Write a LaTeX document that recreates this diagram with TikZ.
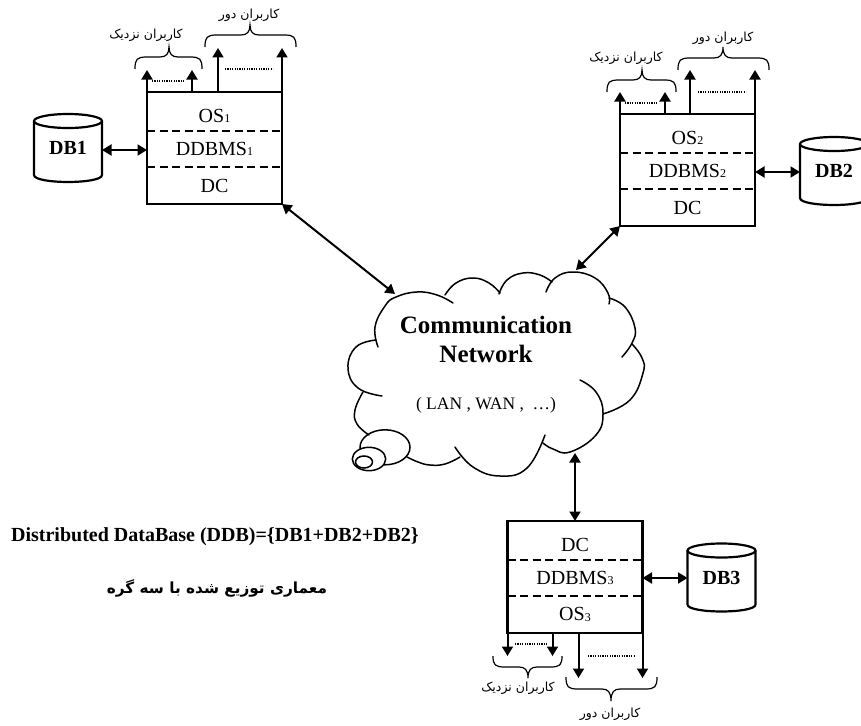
\documentclass[tikz,border=0pt]{standalone}
\usepackage{fontspec}
\setmainfont{Liberation Serif}
\newfontfamily\arabicfont[Script=Arabic]{DejaVu Sans}
\TeXXeTstate=1
\usetikzlibrary{arrows.meta,calc}
\tikzset{
  boxouter/.style={draw,line width=2.2pt,minimum width=135pt,minimum height=112pt,inner sep=0pt,outer sep=0pt},
  layer/.style={minimum width=135pt,inner sep=0pt,outer sep=0pt,font=\fontsize{20}{22}\selectfont},
  dashline/.style={line width=1.6pt,dash pattern=on 8pt off 4.5pt},
  dbbody/.style={line width=2.2pt},
  dblabel/.style={minimum width=68pt,minimum height=68pt,inner sep=0pt,outer sep=0pt,font=\fontsize{20}{22}\selectfont\bfseries},
  bidir/.style={line width=2pt,{Triangle[length=9.5pt,width=11pt]}-{Triangle[length=9.5pt,width=11pt]}},
  usr/.style={line width=2pt,-{Triangle[length=9.5pt,width=11pt]}},
  brace/.style={line width=1.2pt},
  dotsline/.style={line width=1.3pt,dash pattern=on 1.2pt off 1.2pt},
  cloudline/.style={line width=1.5pt,line cap=round},
  fa/.style={inner sep=0pt,font=\arabicfont\fontsize{12.5}{14}\selectfont},
  txt/.style={inner sep=0pt}
}
\newcommand{\dbcyl}[4]{% name, cx, cy, label
  \node[dblabel] (#1) at (#2,#3) {#4};
  \begin{scope}[shift={(#2,#3)}]
    \draw[dbbody] (0,-27) ellipse [x radius=34pt,y radius=7pt];
    \draw[dbbody] (-34,-27) -- (-34,27) .. controls (-34,36.3) and (34,36.3) .. (34,27) -- (34,-27);
  \end{scope}
}
\newcommand{\sitebox}[6]{% name, cx, top, l1,l2,l3
  \node[boxouter,anchor=north] (#1) at (#2,#3) {};
  \node[layer,minimum height=39pt,anchor=north] (#1a) at (#1.north) {};
  \node[layer] (#1t) at ($(#1a.center)+(0,4.5)$) {#4};
  \node[layer,minimum height=36pt,anchor=north] (#1b) at (#1a.south) {#5};
  \node[layer,minimum height=37pt,anchor=north] (#1c) at (#1b.south) {#6};
  \draw[dashline] (#1a.south west) -- (#1a.south east);
  \draw[dashline] (#1b.south west) -- (#1b.south east);
}
\newcommand{\bracket}[7]{% x1,x2,tipx,yend,yflat,ytip,sign
  \draw[brace] (#1,#4) .. controls (#1,#5+#7*2) and (#1+2,#5) .. (#1+12,#5)
     -- (#3-9,#5) .. controls (#3-3,#5) and (#3,#5-#7*3) .. (#3,#6)
     .. controls (#3,#5-#7*3) and (#3+3,#5) .. (#3+9,#5)
     -- (#2-12,#5) .. controls (#2-2,#5) and (#2,#5+#7*2) .. (#2,#4);
}
\newcommand{\sub}[1]{\raisebox{-0.5pt}{\fontsize{12}{13}\selectfont #1}}
\newcommand{\near}{\beginR کاربران نزدیک\endR}
\newcommand{\far}{\beginR کاربران دور\endR}
\begin{document}
\begin{tikzpicture}[x=1pt,y=-1pt]
\useasboundingbox (0,0) rectangle (861,725);

% cloud
\draw[cloudline] plot[smooth,tension=0.75] coordinates {(378,347) (375,327) (385,306) (396,297) (417,292) (437,295) (453,303)};
\draw[cloudline] plot[smooth,tension=0.75] coordinates {(376,340) (356,347) (348,368) (358,388) (382,396)};
\draw[cloudline] plot[smooth,tension=0.75] coordinates {(363,392) (355,410) (357,424) (369,435)};
\draw[cloudline] plot[smooth,tension=0.75] coordinates {(445,295) (456,283) (473,278) (489,283) (500,293)};
\draw[cloudline] plot[smooth,tension=0.75] coordinates {(499,294) (507,280) (523,273) (540,275) (552,282)};
\draw[cloudline] plot[smooth,tension=0.75] coordinates {(546,292) (555,278) (573,272) (595,278) (608,293) (609,304)};
\draw[cloudline] plot[smooth,tension=0.75] coordinates {(609,298) (625,307) (635,328) (632,343) (622,357)};
\draw[cloudline] plot[smooth,tension=0.75] coordinates {(632,344) (642,358) (643,373) (630,400) (603,414)};
\draw[cloudline] plot[smooth,tension=0.75] coordinates {(580,380) (596,392) (603,413) (596,435) (570,452) (553,449) (543,443)};
\draw[cloudline] plot[smooth,tension=0.75] coordinates {(545,435) (527,468) (500,476) (473,467) (455,447)};
\draw[cloudline] plot[smooth,tension=0.75] coordinates {(460,457) (445,464) (430,465) (418,462) (407,457)};
\draw[cloudline] (385,447.3) ellipse [x radius=25pt,y radius=17.5pt];
\draw[cloudline,fill=white] (369,459) ellipse [x radius=16.7pt,y radius=11.7pt];
\draw[cloudline,fill=white] (364,462) ellipse [x radius=8.5pt,y radius=6pt];

\node[txt,align=center,font=\fontsize{25}{29}\selectfont\bfseries] (net) at (486,339) {Communication\\Network};
\node[txt,font=\fontsize{17.5}{19}\selectfont] (lan) at (486,405) {( LAN , WAN ,\ \ …)};
\coordinate (cloudA) at (395,294);
\coordinate (cloudB) at (576,270);
\coordinate (cloudC) at (575,453);

% sites
\sitebox{n1}{214.5}{92}{OS\sub{1}}{DDBMS\sub{1}}{DC}
\sitebox{n2}{687.5}{114}{OS\sub{2}}{DDBMS\sub{2}}{DC}
\sitebox{n3}{575}{521}{DC}{DDBMS\sub{3}}{OS\sub{3}}

% databases
\dbcyl{db1}{68}{148}{DB1}
\dbcyl{db2}{834}{171}{DB2}
\dbcyl{db3}{721.5}{577.5}{DB3}

% connectors
\draw[bidir] (db1.east |- 0,150) -- (n1.west |- 0,150);
\draw[bidir] (n2.east |- 0,172) -- (db2.west |- 0,172);
\draw[bidir] (n3.east |- 0,578) -- (db3.west |- 0,578);
\draw[bidir] (n1.south east) -- (cloudA);
\draw[bidir] (n2.south west) -- (cloudB);
\draw[bidir] (n3.north) -- (cloudC);

% users, site 1
\draw[usr] (n1.north west) -- ++(0,-22);
\draw[usr] ($(n1.north west)+(45,0)$) -- ++(0,-22);
\draw[usr] ($(n1.north west)+(71,0)$) -- ++(0,-44);
\draw[usr] (n1.north east) -- ++(0,-44);
\draw[dotsline] (152,81) -- (184,81);
\draw[dotsline] (225,69) -- (273,69);
\bracket{135}{202}{169}{69}{57}{47}{1}
\bracket{205}{296}{250}{47}{35}{25}{1}
\node[fa] (t1a) at (146,35) {\near};
\node[fa] (t1b) at (249,15) {\far};

% users, site 2
\draw[usr] (n2.north west) -- ++(0,-22);
\draw[usr] ($(n2.north west)+(45,0)$) -- ++(0,-22);
\draw[usr] ($(n2.north west)+(70,0)$) -- ++(0,-44);
\draw[usr] (n2.north east) -- ++(0,-44);
\draw[dotsline] (625,103) -- (657,103);
\draw[dotsline] (698,92) -- (746,92);
\bracket{607}{676}{642}{92}{80}{70}{1}
\bracket{678}{769}{723}{70}{58}{47}{1}
\node[fa] (t2a) at (626,58) {\near};
\node[fa] (t2b) at (723,38) {\far};

% users, site 3
\draw[usr] (n3.south west) -- ++(0,23);
\draw[usr] ($(n3.south west)+(45,0)$) -- ++(0,23);
\draw[usr] ($(n3.south west)+(71,0)$) -- ++(0,45);
\draw[usr] (n3.south east) -- ++(0,45);
\draw[dotsline] (515,644) -- (547,644);
\draw[dotsline] (588,656) -- (635,656);
\bracket{493}{562}{528}{656}{667}{678}{-1}
\bracket{566}{657}{611}{677}{689}{701}{-1}
\node[fa] (t3a) at (518,688) {\near};
\node[fa] (t3b) at (610,714) {\far};

% captions
\node[txt,font=\fontsize{20}{22}\selectfont\bfseries] (cap1) at (215,537) {Distributed DataBase (DDB)=\{DB1+DB2+DB2\}};
\node[txt,font=\arabicfont\bfseries\fontsize{15.3}{18}\selectfont] (cap2) at (217,588) {\beginR معماری توزیع شده با سه گره\endR};
\end{tikzpicture}
\end{document}
